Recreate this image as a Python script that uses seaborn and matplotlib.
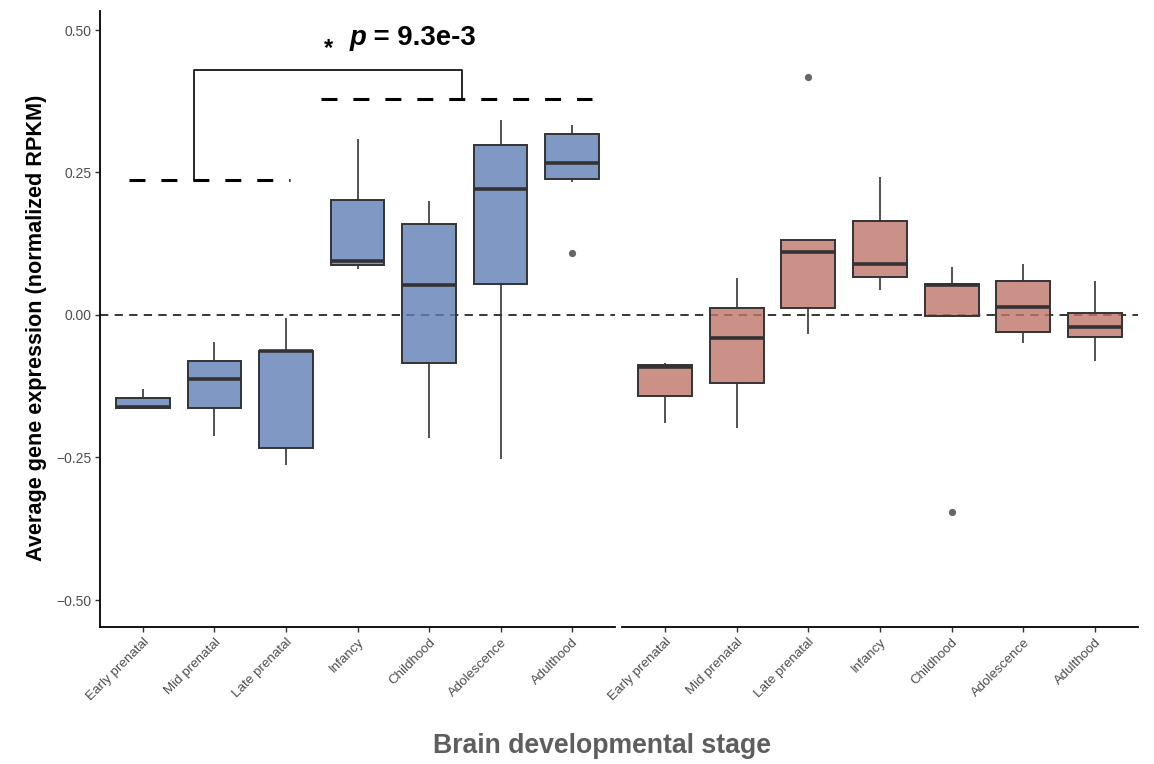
import numpy as np
import pandas as pd
import seaborn as sns
import matplotlib.pyplot as plt
import matplotlib.transforms as mtransforms
from matplotlib.colors import to_rgba

# ---------------- data ----------------
stages = ["Early prenatal", "Mid prenatal", "Late prenatal", "Infancy",
          "Childhood", "Adolescence", "Adulthood"]

# left panel (blue) five-number summaries
left_whislo = [-0.165, -0.212, -0.263, 0.081, -0.215, -0.253, 0.233]
left_q1     = [-0.164, -0.163, -0.234, 0.087, -0.085, 0.054, 0.238]
left_med    = [-0.161, -0.113, -0.063, 0.094, 0.053, 0.221, 0.266]
left_q3     = [-0.145, -0.080, -0.063, 0.202, 0.160, 0.299, 0.318]
left_whishi = [-0.129, -0.048, -0.005, 0.309, 0.200, 0.342, 0.333]
left_outlier_stage = ["Adulthood"]
left_outlier_value = [0.108]

# right panel (red) five-number summaries
right_whislo = [-0.190, -0.198, -0.033, 0.043, -0.001, -0.049, -0.080]
right_q1     = [-0.142, -0.119, 0.012, 0.066, -0.001, -0.029, -0.039]
right_med    = [-0.091, -0.041, 0.111, 0.089, 0.053, 0.014, -0.021]
right_q3     = [-0.088, 0.012, 0.132, 0.165, 0.054, 0.060, 0.004]
right_whishi = [-0.085, 0.065, 0.132, 0.242, 0.084, 0.090, 0.060]
right_outlier_stage = ["Late prenatal", "Childhood"]
right_outlier_value = [0.418, -0.346]

# annotation values
prenatal_ref = 0.237
postnatal_ref = 0.379
bracket_top = 0.430
p_text = "= 9.3e-3"

yticks = [-0.50, -0.25, 0.00, 0.25, 0.50]
ytick_labels = ["\u22120.50", "\u22120.25", "0.00", "0.25", "0.50"]

# ---------------- style ----------------
sns.set_theme(style="ticks")
plt.rcParams["font.family"] = ["Liberation Sans", "DejaVu Sans"]
plt.rcParams["lines.scale_dashes"] = False

blue = "#6180B6"
red = "#BE766B"
edge = "#333333"
tick_col = "#4D4D4D"


def summary_frame(lo, q1, med, q3, hi):
    rows = []
    for s, a, b, c, d, e in zip(stages, lo, q1, med, q3, hi):
        for v in (a, b, c, d, e):
            rows.append({"stage": s, "value": v})
    return pd.DataFrame(rows)


left_df = summary_frame(left_whislo, left_q1, left_med, left_q3, left_whishi)
right_df = summary_frame(right_whislo, right_q1, right_med, right_q3, right_whishi)
left_out = pd.DataFrame({"stage": left_outlier_stage, "value": left_outlier_value})
right_out = pd.DataFrame({"stage": right_outlier_stage, "value": right_outlier_value})

W, H = 1154, 764
fig = plt.figure(figsize=(W / 100, H / 100), dpi=100)
ax_top, ax_bot = 11, 627
axL = fig.add_axes([100 / W, 1 - ax_bot / H, 515 / W, (ax_bot - ax_top) / H])
axR = fig.add_axes([622 / W, 1 - ax_bot / H, 516 / W, (ax_bot - ax_top) / H], sharey=axL)

ylim = ((315 - ax_bot) / 570, (315 - ax_top) / 570)
shift = mtransforms.ScaledTranslation(-4 / 100, 0, fig.dpi_scale_trans)

for ax, df, od, col in [(axL, left_df, left_out, blue), (axR, right_df, right_out, red)]:
    ax.axhline(0, color="black", lw=1.1, dashes=(6, 4.5), zorder=1)
    sns.boxplot(data=df, x="stage", y="value", order=stages, color=col,
                width=0.75, linecolor=edge, linewidth=1.4, whis=(0, 100),
                showcaps=False, ax=ax,
                medianprops=dict(color=edge, linewidth=2.6),
                whiskerprops=dict(color=edge, linewidth=1.2))
    for p in ax.patches:
        p.set_facecolor(to_rgba(col, 0.8))
        p.set_edgecolor(edge)
        p.set_zorder(2)
    sns.stripplot(data=od, x="stage", y="value", order=stages, jitter=False,
                  color="#666666", size=5.2, linewidth=0, ax=ax, zorder=4)
    ax.set_xlim(-0.6, 6.6)
    ax.set_ylim(*ylim)
    ax.set_xlabel("")
    ax.set_ylabel("")
    ax.set_xticks(range(len(stages)))
    ax.set_xticklabels(stages, rotation=45, ha="right", va="top",
                       rotation_mode="anchor", fontsize=9.6, color=tick_col)
    for lab in ax.get_xticklabels():
        lab.set_transform(lab.get_transform() + shift)
    ax.tick_params(axis="x", length=3.5, width=1, color=edge, pad=3)
    for s in ["top", "right"]:
        ax.spines[s].set_visible(False)
    ax.spines["bottom"].set_linewidth(1.3)
    ax.spines["bottom"].set_color("black")
    ax.set_facecolor("white")
    ax.grid(False)

axL.set_yticks(yticks)
axL.set_yticklabels(ytick_labels, fontsize=10, color=tick_col)
axL.tick_params(axis="y", length=3.5, width=1, color=edge, pad=2.5)
axL.spines["left"].set_linewidth(1.3)
axL.spines["left"].set_color("black")
axR.spines["left"].set_visible(False)
axR.tick_params(axis="y", left=False, labelleft=False)

# significance annotation on the left panel
axL.plot([-0.2, 2.06], [prenatal_ref, prenatal_ref], color="black", lw=2.2,
         dashes=(11.5, 11.5), dash_capstyle="butt", zorder=3)
axL.plot([2.49, 6.28], [postnatal_ref, postnatal_ref], color="black", lw=2.2,
         dashes=(11.5, 11.5), dash_capstyle="butt", zorder=3)
axL.plot([0.71, 0.71, 4.46, 4.46], [prenatal_ref, bracket_top, bracket_top, postnatal_ref],
         color="black", lw=1.2, zorder=3)
axL.text(2.59, 0.468, "*", fontsize=17, fontweight="bold", ha="center",
         va="center", color="black")
tp = axL.text(2.89, 0.474, "p", fontsize=19.8, fontweight="bold", style="italic",
              ha="left", va="baseline", color="black")
axL.annotate(" " + p_text, xy=(1, 0), xycoords=tp, fontsize=19.8, fontweight="bold",
             ha="left", va="bottom", color="black")

fig.text(37 / W, 1 - 328 / H, "Average gene expression (normalized RPKM)",
         rotation=90, ha="center", va="center", fontsize=15.6, fontweight="bold",
         color="black")
fig.text(602 / W, 1 - 746 / H, "Brain developmental stage", ha="center",
         va="center", fontsize=19.2, fontweight="bold", color="#5E5E5E")

fig.savefig("out.png", dpi=100)
